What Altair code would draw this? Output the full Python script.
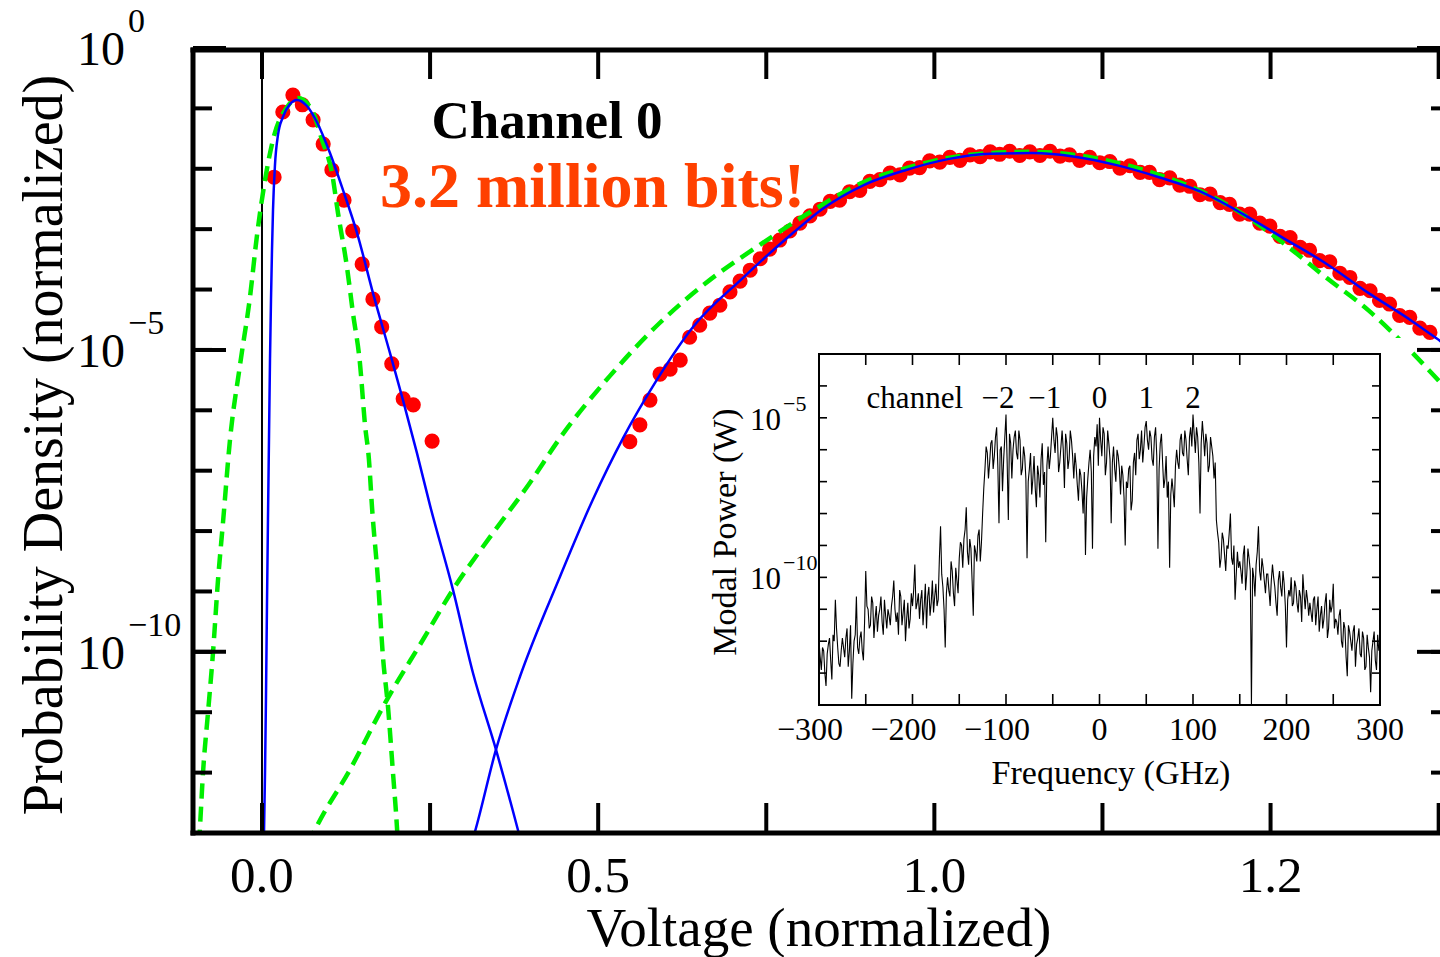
import altair as alt
import pandas as pd

FONT = "Liberation Serif"
W, H = 1247, 785

# ---------------- main panel data (voltage, log10 probability density) ----------------
red_lo = [(0.018, -2.14), (0.031, -1.06), (0.046, -0.78), (0.060, -0.94), (0.076, -1.19),
          (0.091, -1.59), (0.104, -2.02), (0.122, -2.52), (0.135, -3.03), (0.149, -3.58),
          (0.165, -4.16), (0.178, -4.62), (0.193, -5.23), (0.210, -5.81), (0.225, -5.91),
          (0.253, -6.51)]

red_hi = [(0.547, -6.52), (0.562, -6.24), (0.577, -5.83), (0.592, -5.40), (0.607, -5.32),
          (0.622, -5.17), (0.636, -4.79), (0.651, -4.59), (0.666, -4.39), (0.681, -4.26),
          (0.696, -4.04), (0.711, -3.86), (0.726, -3.68), (0.741, -3.49), (0.755, -3.33),
          (0.770, -3.18), (0.785, -3.03), (0.800, -2.90), (0.815, -2.78), (0.830, -2.67),
          (0.845, -2.54), (0.859, -2.52), (0.874, -2.38), (0.889, -2.36), (0.904, -2.21),
          (0.919, -2.18), (0.934, -2.07), (0.949, -2.10), (0.963, -1.99), (0.978, -1.98),
          (0.993, -1.87), (1.008, -1.89), (1.023, -1.81), (1.038, -1.86), (1.053, -1.77),
          (1.068, -1.80), (1.083, -1.72), (1.097, -1.76), (1.112, -1.71), (1.127, -1.78),
          (1.142, -1.72), (1.157, -1.78), (1.172, -1.71), (1.187, -1.79), (1.201, -1.77),
          (1.216, -1.86), (1.231, -1.81), (1.246, -1.90), (1.261, -1.88), (1.276, -1.99),
          (1.291, -1.95), (1.306, -2.06), (1.320, -2.06), (1.335, -2.18), (1.350, -2.15),
          (1.365, -2.27), (1.380, -2.29), (1.395, -2.43), (1.410, -2.42), (1.425, -2.56),
          (1.439, -2.59), (1.454, -2.75), (1.469, -2.75), (1.484, -2.90), (1.499, -2.95),
          (1.514, -3.12), (1.529, -3.14), (1.544, -3.30), (1.558, -3.35), (1.573, -3.52),
          (1.588, -3.54), (1.603, -3.73), (1.618, -3.80), (1.633, -3.98), (1.648, -4.02),
          (1.662, -4.18), (1.677, -4.24), (1.692, -4.43), (1.707, -4.46), (1.722, -4.64),
          (1.737, -4.71)]

blue_lo = [(0.0027, -13.2), (0.0045, -12.00), (0.0059, -10.79), (0.0074, -9.25), (0.0089, -7.81),
           (0.0104, -6.49), (0.0119, -5.17), (0.0134, -4.17), (0.0149, -3.34), (0.0164, -2.68),
           (0.0193, -1.94), (0.0238, -1.44), (0.0312, -1.14), (0.0416, -0.93), (0.0520, -0.86),
           (0.0669, -0.96), (0.0818, -1.23), (0.1011, -1.74), (0.1204, -2.35), (0.1413, -3.06),
           (0.1651, -4.06), (0.1903, -5.05), (0.2097, -5.83), (0.2305, -6.71), (0.2498, -7.57),
           (0.2840, -8.97), (0.3138, -10.35), (0.3480, -11.62), (0.3807, -12.95), (0.3866, -13.2)]

blue_hi = [(0.3108, -13.2), (0.3167, -12.98), (0.348, -11.62), (0.384, -10.40), (0.443, -8.76),
           (0.492, -7.48), (0.537, -6.46), (0.587, -5.50), (0.641, -4.62), (0.715, -3.81),
           (0.790, -3.06), (0.833, -2.67), (0.895, -2.27), (0.958, -2.02), (1.020, -1.84),
           (1.083, -1.75), (1.146, -1.74), (1.209, -1.80), (1.271, -1.94), (1.334, -2.14),
           (1.396, -2.38), (1.459, -2.75), (1.521, -3.16), (1.584, -3.58), (1.646, -4.06),
           (1.710, -4.52), (1.752, -4.85), (1.767, -4.97)]

green_lo = [(-0.0937, -13.19), (-0.0922, -12.90), (-0.0877, -12.00), (-0.0803, -11.01),
            (-0.0729, -10.02), (-0.0654, -8.81), (-0.0580, -7.86), (-0.0476, -6.49),
            (-0.0327, -5.25), (-0.0178, -4.12), (-0.0074, -3.10), (0.0045, -2.19),
            (0.0164, -1.52), (0.0372, -0.98), (0.0535, -0.83), (0.0743, -1.03),
            (0.0892, -1.52), (0.1041, -2.07), (0.1130, -2.73), (0.1264, -3.63),
            (0.1353, -4.39), (0.1457, -5.22), (0.1532, -6.24), (0.1591, -6.82),
            (0.1636, -7.60), (0.1725, -8.81), (0.1799, -10.08), (0.1874, -10.91),
            (0.1948, -12.00), (0.2007, -12.90), (0.2022, -13.19)]

green_hi = [(0.0684, -13.20), (0.0788, -12.95), (0.1309, -11.95), (0.1859, -10.79),
            (0.2394, -9.80), (0.2840, -8.97), (0.3390, -8.10), (0.3985, -7.20),
            (0.4431, -6.46), (0.5175, -5.43), (0.5918, -4.55), (0.6662, -3.84),
            (0.7405, -3.26), (0.8149, -2.72), (0.8952, -2.22), (0.9576, -1.99),
            (1.0201, -1.82), (1.0825, -1.74), (1.1465, -1.72), (1.2089, -1.77),
            (1.2714, -1.90), (1.3338, -2.10), (1.3963, -2.37), (1.4587, -2.75),
            (1.5212, -3.25), (1.5836, -3.81), (1.6461, -4.35), (1.7086, -5.02),
            (1.7517, -5.53), (1.7665, -5.71)]

x_ticks = [0.0, 0.25, 0.5, 0.75, 1.0, 1.25, 1.5, 1.75]
x_label_pos = [0.0, 0.5, 1.0, 1.5]
x_label_text = ["0.0", "0.5", "1.0", "1.2"]
y_decades = [1e0, 1e-1, 1e-2, 1e-3, 1e-4, 1e-5, 1e-6, 1e-7, 1e-8, 1e-9, 1e-10, 1e-11, 1e-12, 1e-13]
y_major = [1e0, 1e-5, 1e-10]
y_major_exp = ["0", "\u22125", "\u221210"]

# ---------------- inset data (frequency GHz, log10 modal power W) ----------------
# samples at -300, -297.5, ..., 300
spec_log10p_a = [
    -12.0, -12.9, -12.3, -13.4, -12.1, -12.6, -11.8, -10.7, -12.2, -12.8,
    -11.9, -12.5, -11.6, -12.3, -13.8, -12.0, -10.6, -12.4, -11.7, -12.6,
    -9.8, -11.0, -11.5, -10.8, -11.3, -11.7, -11.0, -11.4, -10.7, -11.6,
    -11.2, -10.9, -10.1, -11.4, -11.8, -10.6, -11.1, -12.0, -10.8, -11.3,
    -10.9, -9.6, -10.8, -11.3, -10.4, -10.9, -11.6, -10.3, -10.8, -11.1,
    -10.2, -10.7, -8.4, -10.3, -12.2, -10.0, -10.6, -9.8, -10.9, -10.1,
    -9.4, -9.0, -8.8, -7.8, -9.6, -9.1, -11.2, -9.2, -8.7, -9.5,
    -8.0, -6.6, -6.1, -6.4, -5.7, -6.2, -5.3, -8.3, -5.9, -6.3,
    -4.9, -8.2, -5.8, -6.0, -5.4, -6.3, -5.7, -6.6, -6.2, -9.4,
    -6.6, -7.4, -6.2, -7.8, -6.8, -6.3, -7.1, -8.9, -5.9, -6.2,
    -5.0, -6.1, -5.6, -6.4, -5.4, -7.2, -5.8, -6.3, -5.7, -6.9,
    -6.5, -7.6, -6.8, -8.0, -9.3, -6.9, -6.0, -9.1, -5.6, -5.2,
    -5.0, -6.2, -5.5, -6.4, -5.8, -8.3, -5.9, -7.0, -6.2, -7.4,
    -6.8, -9.0, -7.2, -6.5, -7.6, -6.1, -5.7, -6.3, -5.4, -5.9,
    -5.1, -6.0, -5.6, -6.5, -5.3, -9.1, -5.8, -6.4, -6.9, -7.5,
    -9.7, -6.9, -7.8, -6.0, -6.6, -5.5, -6.2, -5.7, -6.8, -5.3,
    -4.9, -6.1, -5.6, -8.0, -5.1, -6.2, -5.8, -6.5, -5.9, -6.9,
    -8.2, -8.9, -9.4, -8.8, -9.8, -9.1, -8.0, -9.6, -10.7, -9.2,
    -9.5, -10.2, -9.0, -9.9, -9.4, -14.2, -10.0, -9.6, -8.4, -10.1,
    -9.7, -10.5, -9.9, -10.9, -9.6, -10.3, -11.2, -9.8, -10.6, -10.2,
    -12.2, -10.4, -10.0, -10.8, -10.3, -11.1, -10.6, -9.9, -11.0, -10.7,
    -10.8, -11.4, -10.6, -11.0, -11.7, -10.9, -11.3, -10.5, -11.6, -11.1,
    -10.2, -11.3, -11.8, -11.0, -12.2, -11.6, -13.1, -11.7, -12.3, -11.5,
    -12.1, -11.6, -12.5, -11.9, -12.8, -12.2, -13.6, -12.0, -12.6, -11.8, -12.1,
]
# samples at -298.75, -296.25, ..., 298.75
spec_log10p_b = [
    -12.5, -12.2, -13.0, -12.4, -11.9, -13.2, -12.0, -11.6, -12.7, -12.3,
    -12.2, -11.9, -12.8, -11.5, -12.7, -11.8, -12.2, -11.9, -12.3, -11.4,
    -10.9, -11.6, -10.6, -11.9, -10.9, -11.2, -10.6, -11.8, -11.2, -11.0,
    -11.5, -10.6, -11.0, -11.1, -10.4, -11.5, -10.7, -11.3, -11.6, -10.5,
    -10.4, -11.0, -10.5, -10.7, -11.5, -10.2, -10.6, -11.2, -10.1, -10.6,
    -10.9, -9.4, -9.9, -11.0, -10.5, -10.4, -9.5, -10.5, -9.7, -10.5,
    -8.9, -9.7, -8.5, -9.2, -8.8, -10.1, -9.0, -9.5, -8.5, -8.9,
    -7.2, -5.9, -6.9, -5.8, -6.6, -5.6, -6.5, -6.0, -7.3, -5.6,
    -6.4, -5.5, -6.9, -5.6, -6.1, -5.4, -6.8, -5.9, -6.9, -7.0,
    -6.1, -6.9, -7.2, -6.5, -7.5, -5.8, -6.7, -6.5, -6.6, -5.6,
    -5.7, -5.3, -6.7, -5.9, -6.0, -5.5, -6.6, -5.4, -6.2, -6.1,
    -7.1, -6.6, -7.3, -6.7, -7.5, -6.4, -6.7, -6.2, -5.9, -6.5,
    -5.7, -5.3, -6.8, -5.4, -6.3, -6.4, -6.6, -6.0, -6.6, -6.5,
    -7.5, -7.0, -6.6, -7.9, -6.4, -6.8, -5.5, -6.0, -6.4, -5.3,
    -5.7, -5.4, -6.3, -5.6, -6.2, -6.6, -5.5, -7.2, -6.2, -7.0,
    -7.4, -7.3, -6.5, -6.4, -5.7, -6.1, -5.4, -6.3, -5.6, -5.9,
    -5.5, -5.3, -6.4, -5.8, -5.6, -5.5, -6.7, -5.6, -6.2, -6.4,
    -8.6, -9.7, -8.6, -9.3, -9.0, -8.6, -9.4, -9.0, -9.9, -9.7,
    -9.8, -9.3, -10.4, -9.1, -9.8, -9.7, -10.6, -9.2, -9.8, -9.4,
    -10.1, -9.9, -10.4, -10.1, -10.0, -10.8, -10.1, -10.3, -9.8, -10.9,
    -10.7, -10.6, -10.9, -10.1, -10.8, -10.4, -11.4, -10.5, -10.4, -11.2,
    -11.1, -10.7, -11.5, -10.6, -11.2, -11.6, -10.8, -11.9, -10.7, -10.9,
    -11.6, -11.4, -11.2, -12.0, -11.4, -12.5, -11.5, -12.0, -11.7, -12.8,
    -11.9, -12.4, -11.7, -12.9, -11.8, -12.5, -12.3, -11.7, -12.9, -12.3,
]
spec_freq_a = [-300 + 2.5 * i for i in range(len(spec_log10p_a))]
spec_freq_b = [-298.75 + 2.5 * i for i in range(len(spec_log10p_b))]

inset_x_ticks = [-300, -250, -200, -150, -100, -50, 0, 50, 100, 150, 200, 250, 300]
inset_x_lab_pos = [0, 100, 200, 300]
inset_x_lab_text = ["0", "100", "200", "300"]
inset_x_lab_neg_pos = [-300, -200, -100]
inset_x_lab_neg_text = ["\u2212300", "\u2212200", "\u2212100"]
inset_y_decades = [1e-4, 1e-5, 1e-6, 1e-7, 1e-8, 1e-9, 1e-10, 1e-11, 1e-12, 1e-13]
inset_y_major = [1e-5, 1e-10]
inset_y_major_exp = ["\u22125", "\u221210"]
channel_pos_f = [0, 50, 100]
channel_pos_t = ["0", "1", "2"]
channel_neg_f = [-100, -50]
channel_neg_t = ["\u22122", "\u22121"]


def pairs_df(pairs, name):
    return pd.DataFrame({"v": [a for a, b in pairs],
                         "p": [10.0 ** b for a, b in pairs],
                         "curve": name})


XS = alt.Scale(domain=[-0.1026, 1.752], nice=False, zero=False)
YS = alt.Scale(type="log", domain=[1e-13, 1.0], nice=False)
XI = alt.Scale(domain=[-300, 300], range=[626, 1187], nice=False, zero=False)
YI = alt.Scale(type="log", domain=[1e-14, 1e-3], range=[657, 306], nice=False, clamp=True)


def xm(f="v"):
    return alt.X(f"{f}:Q", scale=XS, axis=None)


def ym(f="p"):
    return alt.Y(f"{f}:Q", scale=YS, axis=None)


def xi(f="f"):
    return alt.X(f"{f}:Q", scale=XI, axis=None)


def yi(f="p"):
    return alt.Y(f"{f}:Q", scale=YI, axis=None)


one = pd.DataFrame({"a": [0]})

# ---------------- main layers ----------------
zero_line = alt.Chart(pd.DataFrame({"v": [0.0]})).mark_rule(color="black", strokeWidth=2).encode(
    x=xm(), y=alt.value(0), y2=alt.value(H))

red = pd.concat([pairs_df(red_lo, "lo"), pairs_df(red_hi, "hi")], ignore_index=True)
red_layer = alt.Chart(red).mark_circle(size=230, color="#ff0000", opacity=1).encode(x=xm(), y=ym())

green = pd.concat([pairs_df(green_lo, "g1"), pairs_df(green_hi, "g2")], ignore_index=True)
green_layer = alt.Chart(green).mark_line(color="#00ee00", strokeWidth=4.5, strokeDash=[15, 8],
                                         clip=True, interpolate="monotone").encode(
    x=xm(), y=ym(), detail="curve:N")

blue = pd.concat([pairs_df(blue_lo, "b1"), pairs_df(blue_hi, "b2")], ignore_index=True)
blue_layer = alt.Chart(blue).mark_line(color="#0000ff", strokeWidth=2.5, clip=True,
                                       interpolate="monotone").encode(
    x=xm(), y=ym(), detail="curve:N")

xt = pd.DataFrame({"v": x_ticks})
tick_style = dict(color="black", strokeWidth=4)
top_ticks = alt.Chart(xt).mark_rule(**tick_style).encode(x=xm(), y=alt.value(0), y2=alt.value(31))
bot_ticks = alt.Chart(xt).mark_rule(**tick_style).encode(x=xm(), y=alt.value(H), y2=alt.value(H - 30))
yd = pd.DataFrame({"p": y_decades})
ymj = pd.DataFrame({"p": y_major, "e": y_major_exp})
left_minor = alt.Chart(yd).mark_rule(**tick_style).encode(y=ym(), x=alt.value(0), x2=alt.value(19))
left_major = alt.Chart(ymj).mark_rule(**tick_style).encode(y=ym(), x=alt.value(0), x2=alt.value(33))
right_minor = alt.Chart(yd).mark_rule(**tick_style).encode(y=ym(), x=alt.value(W - 9), x2=alt.value(W))
right_major = alt.Chart(ymj).mark_rule(**tick_style).encode(y=ym(), x=alt.value(W - 23), x2=alt.value(W))

frame_style = dict(color="black", strokeWidth=5)
frame_top = alt.Chart(one).mark_rule(**frame_style).encode(x=alt.value(-2.5), x2=alt.value(W), y=alt.value(2))
frame_bot = alt.Chart(one).mark_rule(**frame_style).encode(x=alt.value(-2.5), x2=alt.value(W), y=alt.value(H))
frame_left = alt.Chart(one).mark_rule(**frame_style).encode(x=alt.value(0), y=alt.value(-0.5), y2=alt.value(H + 2.5))

xlab = pd.DataFrame({"v": x_label_pos, "t": x_label_text})
x_labels = alt.Chart(xlab).mark_text(font=FONT, fontSize=51, align="center", baseline="alphabetic",
                                     color="black").encode(x=xm(), y=alt.value(H + 59), text="t:N")
y_lab_base = alt.Chart(ymj).mark_text(font=FONT, fontSize=48, align="right", baseline="alphabetic",
                                      dy=17, text="10", color="black").encode(y=ym(), x=alt.value(-68))
y_lab_exp = alt.Chart(ymj).mark_text(font=FONT, fontSize=34, align="left", baseline="alphabetic",
                                     dy=-16, color="black").encode(y=ym(), x=alt.value(-65), text="e:N")

x_title = alt.Chart(one).mark_text(font=FONT, fontSize=55, align="center", baseline="alphabetic",
                                   text="Voltage (normalized)", color="black").encode(
    x=alt.value(626), y=alt.value(898))
y_title = alt.Chart(one).mark_text(font=FONT, fontSize=56, align="center", baseline="alphabetic",
                                   angle=270, text="Probability Density (normalized)",
                                   color="black").encode(x=alt.value(-131), y=alt.value(397))

ann1 = alt.Chart(one).mark_text(font=FONT, fontSize=53, fontWeight="bold", align="center",
                                baseline="alphabetic", text="Channel 0", color="black").encode(
    x=alt.value(354), y=alt.value(90))
ann2 = alt.Chart(one).mark_text(font=FONT, fontSize=64, fontWeight="bold", align="left",
                                baseline="alphabetic", text="3.2 million bits!", color="#ff4000").encode(
    x=alt.value(187), y=alt.value(159))

main = alt.layer(zero_line, red_layer, green_layer, blue_layer,
                 top_ticks, bot_ticks, left_minor, left_major, right_minor, right_major,
                 frame_top, frame_bot, frame_left,
                 x_labels, y_lab_base, y_lab_exp, x_title, y_title, ann1, ann2)

# ---------------- inset layers ----------------
inset_bg = alt.Chart(one).mark_rect(color="white").encode(
    x=alt.value(507), x2=alt.value(1217), y=alt.value(290), y2=alt.value(747))

spec = pd.DataFrame({"f": spec_freq_a + spec_freq_b,
                     "p": [10.0 ** v for v in spec_log10p_a + spec_log10p_b]})
spec = spec.sort_values("f").reset_index(drop=True)
trace = alt.Chart(spec).mark_line(color="black", strokeWidth=1.1).encode(
    x=xi(), y=yi(), order="f:Q")

frame_df = pd.DataFrame({"f": [-300], "f2": [300], "p": [1e-3], "p2": [1e-14]})
inset_frame = alt.Chart(frame_df).mark_rect(fillOpacity=0, stroke="black", strokeWidth=2).encode(
    x=xi(), x2="f2:Q", y=yi(), y2="p2:Q")

ixt = pd.DataFrame({"f": inset_x_ticks})
iyt = pd.DataFrame({"p": inset_y_decades})
it_style = dict(color="black", strokeWidth=1.6)
it_top = alt.Chart(ixt).mark_rule(**it_style).encode(x=xi(), y=alt.value(306), y2=alt.value(317))
it_bot = alt.Chart(ixt).mark_rule(**it_style).encode(x=xi(), y=alt.value(657), y2=alt.value(646))
it_left = alt.Chart(iyt).mark_rule(**it_style).encode(y=yi(), x=alt.value(626), x2=alt.value(634))
it_right = alt.Chart(iyt).mark_rule(**it_style).encode(y=yi(), x=alt.value(1187), x2=alt.value(1179))

ilab_style = dict(font=FONT, fontSize=32, align="center", baseline="alphabetic", color="black")
ix_pos = alt.Chart(pd.DataFrame({"f": inset_x_lab_pos, "t": inset_x_lab_text})).mark_text(**ilab_style).encode(
    x=xi(), y=alt.value(692), text="t:N")
ix_neg = alt.Chart(pd.DataFrame({"f": inset_x_lab_neg_pos, "t": inset_x_lab_neg_text})).mark_text(
    dx=-9, **ilab_style).encode(x=xi(), y=alt.value(692), text="t:N")

iymj = pd.DataFrame({"p": inset_y_major, "e": inset_y_major_exp})
iy_base = alt.Chart(iymj).mark_text(font=FONT, fontSize=31, align="right", baseline="alphabetic",
                                    dy=12, text="10", color="black").encode(y=yi(), x=alt.value(588))
iy_exp = alt.Chart(iymj).mark_text(font=FONT, fontSize=22, align="left", baseline="alphabetic",
                                   dy=-7, color="black").encode(y=yi(), x=alt.value(590), text="e:N")

ix_title = alt.Chart(one).mark_text(font=FONT, fontSize=34, align="center", baseline="alphabetic",
                                    text="Frequency (GHz)", color="black").encode(
    x=alt.value(918), y=alt.value(736))
iy_title = alt.Chart(one).mark_text(font=FONT, fontSize=34, align="center", baseline="alphabetic",
                                    angle=270, text="Modal Power (W)", color="black").encode(
    x=alt.value(543), y=alt.value(484))

ch_style = dict(font=FONT, fontSize=31, baseline="alphabetic", color="black")
ch_word = alt.Chart(one).mark_text(align="right", text="channel", **ch_style).encode(
    x=alt.value(770), y=alt.value(360))
ch_pos = alt.Chart(pd.DataFrame({"f": channel_pos_f, "t": channel_pos_t})).mark_text(
    align="center", **ch_style).encode(x=xi(), y=alt.value(360), text="t:N")
ch_neg = alt.Chart(pd.DataFrame({"f": channel_neg_f, "t": channel_neg_t})).mark_text(
    align="center", dx=-8, **ch_style).encode(x=xi(), y=alt.value(360), text="t:N")

inset = alt.layer(inset_bg, trace, inset_frame, it_top, it_bot, it_left, it_right,
                  ix_pos, ix_neg, iy_base, iy_exp, ix_title, iy_title, ch_word, ch_pos, ch_neg)

chart = alt.layer(main, inset).resolve_scale(x="independent", y="independent").properties(
    width=W, height=H,
    autosize=alt.AutoSizeParams(type="none"),
    padding={"left": 193, "top": 48, "right": 0, "bottom": 124},
    background="white",
).configure_view(strokeWidth=0)

chart.save("out.html", embed_options={"renderer": "svg", "actions": False})
